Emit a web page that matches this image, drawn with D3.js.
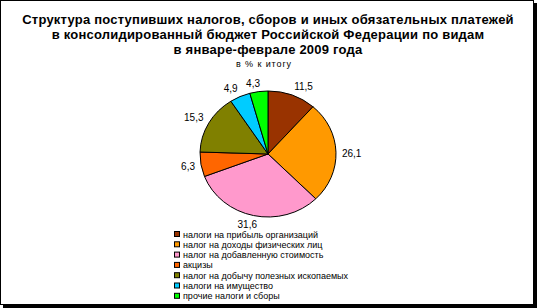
<!DOCTYPE html>
<html>
<head>
<meta charset="utf-8">
<script src="https://cdn.jsdelivr.net/npm/d3@7"></script>
<style>
  body { margin: 0; background: #fff; }
  svg { display: block; font-family: "Liberation Sans", Arial, sans-serif; }
</style>
</head>
<body>
<svg id="chart" width="537" height="308"></svg>
<script>
// chart data
let categories = [
  "налоги на прибыль организаций",
  "налог на доходы физических лиц",
  "налог на добавленную стоимость",
  "акцизы",
  "налог на добычу полезных ископаемых",
  "налоги на имущество",
  "прочие налоги и сборы"
];
let values = [11.5, 26.1, 31.6, 6.3, 15.3, 4.9, 4.3];
let colors = ["#993300", "#ff9900", "#ff99cc", "#ff6600", "#808000", "#00ccff", "#00ff00"];
let titleLines = [
  "Структура поступивших налогов, сборов и иных обязательных платежей",
  "в консолидированный бюджет Российской Федерации по видам",
  "в январе-феврале 2009 года"
];
let subtitle = "в % к итогу";

let svg = d3.select("#chart");

// frame with shadow
svg.append("rect").attr("x", 3).attr("y", 3).attr("width", 534).attr("height", 305).attr("fill", "#000");
svg.append("rect").attr("x", 0.5).attr("y", 0.5).attr("width", 533).attr("height", 304)
  .attr("fill", "#fff").attr("stroke", "#000");

// title
svg.append("g").selectAll("text")
  .data(titleLines)
  .enter()
  .append("text")
    .attr("x", 268)
    .attr("y", (d, i) => 24 + i * 15)
    .attr("text-anchor", "middle")
    .style("font-size", "13px")
    .style("font-weight", "bold")
    .style("letter-spacing", "0.22px")
    .text(d => d);

svg.append("text")
  .attr("x", 264).attr("y", 67)
  .attr("text-anchor", "middle")
  .style("font-size", "9px")
  .style("letter-spacing", "0.9px")
  .text(subtitle);

// pie
let cx = 268, cy = 154, rx = 68, ry = 63;
let pie = d3.pie().sort(null).value(d => d);
let arcs = pie(values);
let arc = d3.arc().innerRadius(0).outerRadius(ry);

let g = svg.append("g").attr("transform", `translate(${cx},${cy}) scale(${rx / ry},1)`);
g.selectAll("path")
  .data(arcs)
  .enter()
  .append("path")
    .attr("d", arc)
    .attr("fill", (d, i) => colors[i])
    .attr("stroke", "#000")
    .attr("stroke-width", 1)
    .attr("vector-effect", "non-scaling-stroke");

// labels
let fmt = v => String(v).replace(".", ",");
svg.append("g").selectAll("text")
  .data(arcs)
  .enter()
  .append("text")
    .each(function(d) {
      let a = (d.startAngle + d.endAngle) / 2;
      let s = Math.sin(a), c = Math.cos(a);
      let x = cx + s * (rx + 6);
      let y = cy - c * (ry + 5);
      let anchor = s > 0.3 ? "start" : (s < -0.3 ? "end" : "middle");
      let shift = c > 0.3 ? 0 : (c < -0.3 ? 8 : 5);
      d3.select(this)
        .attr("x", anchor == "middle" ? x - 5 : x)
        .attr("y", y + shift)
        .attr("text-anchor", anchor);
    })
    .style("font-size", "10px")
    .text(d => fmt(d.data));

// legend
let legend = svg.append("g").attr("transform", "translate(174,231)");
let row = legend.selectAll("g")
  .data(categories)
  .enter()
  .append("g")
    .attr("transform", (d, i) => `translate(0,${i * 10.3})`);
row.append("rect")
  .attr("x", 0.5).attr("y", 0.5)
  .attr("width", 5).attr("height", 5)
  .attr("fill", (d, i) => colors[i])
  .attr("stroke", "#000");
row.append("text")
  .attr("x", 9).attr("y", 6.5)
  .style("font-size", "9px")
  .text(d => d);
</script>
</body>
</html>
